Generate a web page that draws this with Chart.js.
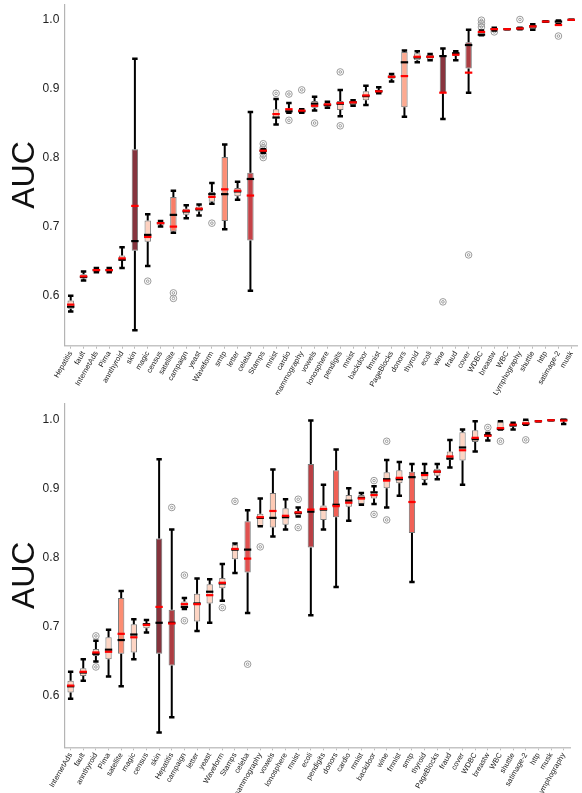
<!DOCTYPE html>
<html>
<head>
<meta charset="utf-8">
<script src="https://cdn.jsdelivr.net/npm/chart.js@4.4.1/dist/chart.umd.min.js"></script>
<style>
  body { margin: 0; background: #fff; }
  .panel { position: absolute; left: 0; width: 582px; }
  #p1 { top: 0; height: 395px; }
  #p2 { top: 395px; height: 398px; }
</style>
</head>
<body>
<div class="panel" id="p1"><canvas id="chart1"></canvas></div>
<div class="panel" id="p2"><canvas id="chart2"></canvas></div>
<script>
const yTicks = [0.6, 0.7, 0.8, 0.9, 1.0];

// top panel
const catsA = ['Hepatitis','fault','InternetAds','Pima','annthyroid','skin','magic','census','satellite','campaign',
  'yeast','Waveform','smtp','letter','celeba','Stamps','mnist','cardio','mammography','vowels',
  'Ionosphere','pendigits','mnist','backdoor','fmnist','PageBlocks','donors','thyroid','ecoli','wine',
  'fraud','cover','WDBC','breastw','WBC','Lymphography','shuttle','http','satimage-2','musk'];
const loA   = [.577,.622,.634,.634,.640,.550,.643,.700,.691,.712, .716,.733,.696,.739,.607,.807,.848,.865,.865,.868, .872,.860,.875,.876,.893,.910,.859,.938,.941,.856, .941,.894,.977,.984,.986,.986,.985,.997,.993,.9995];
const q1A   = [.581,.625,.636,.636,.651,.665,.678,.704,.693,.717, .722,.736,.708,.744,.680,.808,.857,.866,.866,.872, .874,.869,.876,.883,.894,.914,.873,.941,.942,.893, .947,.929,.978,.984,.986,.986,.986,.997,.993,.9995];
const medA  = [.584,.627,.637,.637,.652,.679,.688,.705,.717,.722, .725,.747,.747,.751,.769,.810,.858,.867,.867,.878, .876,.878,.880,.889,.896,.917,.938,.945,.946,.947, .951,.963,.978,.986,.986,.987,.990,.997,.997,.9995];
const q3A   = [.593,.631,.638,.638,.658,.812,.709,.707,.743,.726, .729,.750,.801,.756,.778,.811,.870,.871,.869,.882, .879,.882,.882,.896,.898,.919,.953,.951,.949,.947, .953,.967,.983,.988,.986,.988,.992,.997,.9985,.9995];
const hiA   = [.600,.635,.640,.640,.670,.943,.718,.708,.752,.731, .732,.763,.819,.765,.866,.812,.885,.879,.870,.888, .881,.898,.883,.904,.902,.921,.955,.954,.950,.958, .954,.985,.984,.988,.986,.988,.993,.997,.9985,.9995];
const meanA = [.587,.628,.637,.637,.654,.730,.685,.705,.700,.723, .726,.743,.754,.752,.745,.810,.863,.870,.868,.875, .877,.879,.880,.890,.896,.917,.918,.946,.946,.894, .949,.923,.982,.986,.986,.987,.990,.997,.992,.9995];
const outA  = [[],[],[],[],[],[],[.621],[],[.604,.596],[], [],[.705],[],[],[],[.820,.814,.805,.800],[.893],[.892,.854],[.898],[.850],
  [],[.924,.846],[],[],[],[],[],[],[],[.591], [],[.659],[.999,.994,.989],[.982],[],[1.0],[],[],[.976],[]];

// bottom panel
const catsB = ['InternetAds','fault','annthyroid','Pima','satellite','magic','census','skin','Hepatitis','campaign',
  'letter','yeast','Waveform','Stamps','celeba','mammography','vowels','Ionosphere','mnist','ecoli',
  'pendigits','donors','cardio','mnist','backdoor','wine','fmnist','smtp','thyroid','PageBlocks',
  'fraud','cover','WDBC','breastw','WBC','shuttle','satimage-2','http','musk','Lymphography'];
const loB   = [.596,.622,.650,.628,.614,.653,.692,.547,.569,.726, .694,.706,.738,.778,.720,.846,.831,.841,.860,.717, .841,.758,.854,.877,.878,.873,.890,.765,.907,.914, .931,.906,.954,.970,.986,.986,.993,.998,.9995,.994];
const q1B   = [.605,.629,.658,.653,.661,.663,.698,.661,.644,.727, .708,.734,.756,.798,.779,.846,.844,.848,.861,.815, .855,.859,.874,.878,.886,.901,.908,.836,.913,.919, .942,.941,.968,.975,.986,.990,.993,.998,.9995,.998];
const medB  = [.614,.634,.661,.667,.681,.689,.704,.706,.706,.729, .734,.751,.763,.812,.812,.858,.858,.859,.865,.867, .870,.877,.883,.887,.895,.914,.914,.917,.923,.925, .944,.960,.972,.978,.987,.992,.994,.998,.9995,1.0];
const q3B   = [.622,.640,.668,.685,.742,.704,.705,.828,.725,.737, .748,.762,.771,.819,.853,.864,.894,.872,.868,.936, .876,.927,.891,.891,.896,.924,.927,.925,.924,.929, .954,.982,.985,.979,.998,.995,1.0,.998,.9995,1.0];
const hiB   = [.635,.653,.680,.696,.752,.711,.710,.943,.841,.742, .770,.769,.791,.821,.869,.886,.928,.885,.873,.999, .906,.957,.901,.894,.904,.942,.939,.936,.936,.936, .971,.986,.998,.981,.998,.996,1.0,.998,.9995,1.0];
const meanB = [.615,.635,.663,.664,.690,.685,.703,.729,.705,.733, .733,.746,.764,.813,.799,.859,.868,.861,.866,.870, .871,.875,.880,.886,.891,.912,.916,.881,.920,.925, .947,.956,.974,.977,.988,.993,.995,.998,.9995,.999];
const outB  = [[],[],[.687,.642],[],[],[],[],[],[.873],[.775,.709], [],[],[.728],[.882],[.646],[.816],[],[],[.885,.844],[],
  [],[],[],[],[.912,.863],[.969,.855],[],[],[],[], [],[],[],[.989],[.969],[],[.971],[],[],[]];

// matplotlib "Reds"
const REDS = ['#fff5f0','#fee0d2','#fcbba1','#fc9272','#fb6a4a','#ef3b2c','#cb181d','#a50f15','#67000d'];
function hex(h) { return [1, 3, 5].map(k => parseInt(h.substr(k, 2), 16)); }
function reds(t) {
  const p = t * 8, i = Math.min(7, Math.floor(p)), f = p - i;
  const a = hex(REDS[i]), b = hex(REDS[i + 1]);
  const c = a.map((v, k) => Math.round(v + (b[k] - v) * f));
  return `rgba(${c[0]},${c[1]},${c[2]},0.8)`;
}

// rough spread of each run set, used only for the box colour
function spread(lo, q1, md, q3, hi, out) {
  const s = [lo, (lo + q1) / 2, q1, (q1 + md) / 2, md, (md + q3) / 2, q3, (q3 + hi) / 2, hi, ...out];
  const m = s.reduce((a, b) => a + b, 0) / s.length;
  return Math.sqrt(s.reduce((a, b) => a + (b - m) * (b - m), 0) / s.length) + 1e-4;
}

const boxLines = {
  id: 'boxLines',
  afterDatasetsDraw(chart) {
    const st = chart.$box, ctx = chart.ctx;
    const xs = chart.scales.x, ys = chart.scales.y;
    const bars = chart.getDatasetMeta(0).data;
    ctx.save();
    ctx.lineCap = 'butt';
    st.lo.forEach((lo, i) => {
      const x = xs.getPixelForValue(i);
      const w = bars[i].width;
      const yLo = ys.getPixelForValue(lo), yHi = ys.getPixelForValue(st.hi[i]);
      const y1 = ys.getPixelForValue(st.q1[i]), y3 = ys.getPixelForValue(st.q3[i]);
      ctx.strokeStyle = '#000';
      ctx.lineWidth = 2;
      ctx.beginPath();
      ctx.moveTo(x, y1); ctx.lineTo(x, yLo);
      ctx.moveTo(x, y3); ctx.lineTo(x, yHi);
      ctx.stroke();
      ctx.lineWidth = 2.5;
      const cw = w * 0.85;
      ctx.beginPath();
      ctx.moveTo(x - cw / 2, yLo); ctx.lineTo(x + cw / 2, yLo);
      ctx.moveTo(x - cw / 2, yHi); ctx.lineTo(x + cw / 2, yHi);
      ctx.stroke();
      ctx.lineWidth = 2.2;
      const ym = ys.getPixelForValue(st.med[i]);
      ctx.beginPath();
      ctx.moveTo(x - w / 2 - 0.5, ym); ctx.lineTo(x + w / 2 + 0.5, ym);
      ctx.stroke();
      ctx.strokeStyle = '#ff0000';
      const ya = ys.getPixelForValue(st.mean[i]);
      ctx.beginPath();
      ctx.moveTo(x - w / 2 - 0.5, ya); ctx.lineTo(x + w / 2 + 0.5, ya);
      ctx.stroke();
    });
    ctx.restore();
  }
};

function noPad(s) { s.paddingTop = 0; s.paddingBottom = 0; s.paddingLeft = 0; s.paddingRight = 0; }

function makeChart(id, cats, lo, q1, med, q3, hi, mean, out, yMin, yMax, pad, xHeight) {
  const sp = cats.map((_, i) => spread(lo[i], q1[i], med[i], q3[i], hi[i], out[i]));
  const smax = Math.max(...sp);
  const colors = sp.map(s => reds(Math.min(1, Math.max(0.2, 1.08 - Math.log(smax / s) / 1.6))));

  // one pair of ring datasets per outlier rank, so every point sits on its own category
  const ranks = Math.max(...out.map(o => o.length));
  const rings = [];
  for (let k = 0; k < ranks; k++) {
    const d = out.map(o => (o[k] === undefined ? null : o[k]));
    [3.3, 1.3].forEach(r => rings.push({
      type: 'line', data: d, showLine: false, spanGaps: false,
      pointRadius: r, pointHoverRadius: r, pointBorderWidth: 1,
      pointBorderColor: '#9a9a9a', pointBackgroundColor: 'rgba(0,0,0,0)'
    }));
  }

  return new Chart(document.getElementById(id), {
    type: 'bar',
    data: {
      labels: cats,
      datasets: [{
        data: cats.map((_, i) => [q1[i], q3[i]]),
        backgroundColor: colors,
        borderColor: '#7a7a7a',
        borderWidth: 1,
        borderSkipped: false,
        barPercentage: 0.5,
        categoryPercentage: 1.0
      }, ...rings]
    },
    options: {
      responsive: true,
      maintainAspectRatio: false,
      animation: false,
      devicePixelRatio: 1,
      layout: { padding: pad },
      plugins: { legend: { display: false }, tooltip: { enabled: false } },
      scales: {
        x: {
          offset: true,
          grid: { display: true, offset: false, drawOnChartArea: false, drawTicks: true, tickLength: 3, color: '#bbbbbb' },
          border: { display: true, color: '#c4c4c4', width: 1.5 },
          ticks: {
            autoSkip: false, minRotation: 60, maxRotation: 60, padding: 1,
            color: '#222', font: { family: 'Liberation Sans', size: 7.5 }
          },
          afterFit: s => { s.height = xHeight; noPad(s); }
        },
        y: {
          min: yMin, max: yMax,
          grid: { display: false, drawTicks: false },
          border: { display: true, color: '#b4b4b4', width: 1.2 },
          afterBuildTicks: s => { s.ticks = yTicks.map(v => ({ value: v })); },
          ticks: {
            padding: 5, color: '#222',
            font: { family: 'Liberation Sans', size: 12 },
            callback: v => Number(v).toFixed(1)
          },
          title: {
            display: true, text: 'AUC', color: '#111',
            font: { family: 'Liberation Sans', size: 32 },
            padding: { top: 6, bottom: 0 }
          },
          afterFit: s => { s.width = 64.3; noPad(s); }
        }
      }
    },
    plugins: [{
      id: 'stash',
      beforeInit(c) { c.$box = { lo, q1, med, q3, hi, mean }; }
    }, boxLines]
  });
}

makeChart('chart1', catsA, loA, q1A, medA, q3A, hiA, meanA, outA, 0.5275, 1.022,
  { top: 2, right: 4.3, left: 0, bottom: 0 }, 49.3);
makeChart('chart2', catsB, loB, q1B, medB, q3B, hiB, meanB, outB, 0.5256, 1.024,
  { top: 8.3, right: 12, left: 0, bottom: 0 }, 45.7);
</script>
</body>
</html>
